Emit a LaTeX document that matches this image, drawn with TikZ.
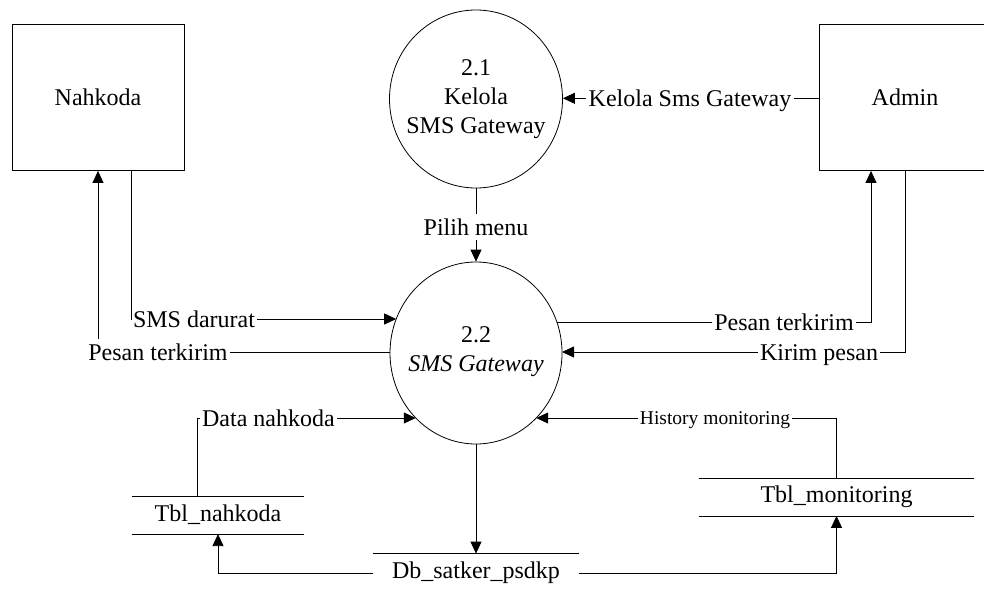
\documentclass[tikz,border=0pt]{standalone}
\usepackage{fontspec}
\setmainfont{Liberation Serif}
\usetikzlibrary{arrows.meta,shapes.geometric}
\begin{document}
\begin{tikzpicture}[x=1pt,y=-1pt,
  line width=0.8pt,
  every node/.style={font=\fontsize{24}{29}\selectfont},
  ent/.style={draw, rectangle, minimum width=172pt, minimum height=146pt, inner sep=0pt},
  proc/.style={draw, ellipse, inner sep=0pt},
  proctext/.style={align=center, inner sep=0pt},
  lbl/.style={inner sep=2pt, text height=19pt, text depth=3pt},
  store/.style={minimum height=37pt, inner sep=0pt},
  arr/.style={-{Triangle[length=12pt,width=11pt]}}
]
\useasboundingbox (0,0) rectangle (984,589);

% entities
\node[ent] (nah) at (98,97.5) {Nahkoda};
\node[ent] (adm) at (905,97.5) {Admin};

% processes
\node[proc, minimum width=173pt, minimum height=178pt] (p21) at (476,99) {};
\node[proctext] (p21t) at (p21.center) {2.1\\Kelola\\SMS Gateway};
\node[proc, minimum width=172pt, minimum height=182pt] (p22) at (476,353) {};
\node[proctext] (p22t) at ([yshift=1pt]p22.center) {2.2\\\textit{SMS Gateway}};

% border points on p22
\coordinate (b-sd) at (396.2,319);
\coordinate (b-pl) at (390,352);
\coordinate (b-pr) at (557,322);
\coordinate (b-kp) at (562,352);
\coordinate (b-dn) at (415.8,418);
\coordinate (b-hm) at (536.2,418);

% stores
\node[store, minimum width=172pt] (tn) at (218,515.2) {Tbl\_nahkoda};
\draw (tn.north west) -- (tn.north east);
\draw (tn.south west) -- (tn.south east);
\node[store, minimum width=275pt] (tm) at (836.5,497) {Tbl\_monitoring};
\draw (tm.north west) -- (tm.north east);
\draw (tm.south west) -- (tm.south east);
\node[store, minimum width=206pt, minimum height=38pt] (db) at (476,573) {Db\_satker\_psdkp};
\draw (db.north west) -- (db.north east);

% labels
\node[lbl] (k1) at (690,98.3) {Kelola Sms Gateway};
\node[lbl] (pm) at (476,227) {Pilih menu};
\node[lbl] (sd) at (194,319) {SMS darurat};
\node[lbl] (pl) at (158,352) {Pesan terkirim};
\node[lbl] (pr) at (784,322) {Pesan terkirim};
\node[lbl] (kp) at (819,352) {Kirim pesan};
\node[lbl] (dn) at (268.4,418) {Data nahkoda};
\node[lbl, font=\fontsize{19.5}{23}\selectfont, text height=15pt, text depth=3pt] (hm) at (715,418) {History monitoring};

% connectors
\draw (adm.west |- k1) -- (k1.east);
\draw[arr] (k1.west) -- (k1.west -| p21.east);

\draw (p21.south) -- (pm.north);
\draw[arr] (pm.south) -- (p22.north);

\draw ([xshift=33.5pt]nah.south) |- (sd.west);
\draw[arr] (sd.east) -- (b-sd);

\draw (b-pl) -- (pl.east);
\draw[arr] (pl.north -| nah.south) -- (nah.south);

\draw (b-pr) -- (pr.west);
\draw[arr] (pr.east) -| ([xshift=-34pt]adm.south);

\draw (adm.south) |- (kp.east);
\draw[arr] (kp.west) -- (b-kp);

\draw ([xshift=-20.3pt]tn.north) |- (dn.west);
\draw[arr] (dn.east) -- (b-dn);

\draw (tm.north) |- (hm.east);
\draw[arr] (hm.west) -- (b-hm);

\draw[arr] (p22.south) -- (db.north);
\draw[arr] (db.west) -| (tn.south);
\draw[arr] (db.east) -| (tm.south);
\end{tikzpicture}
\end{document}
